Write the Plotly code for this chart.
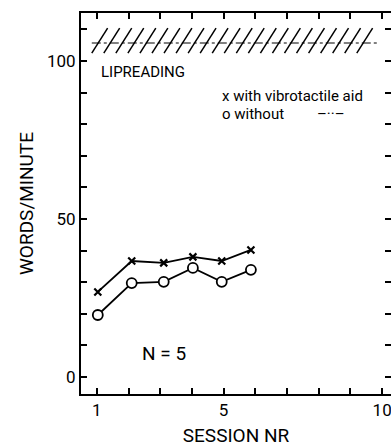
import plotly.graph_objects as go

# ---- data ----
session_with = [1.03, 2.10, 3.11, 4.03, 4.94, 5.86]
words_with = [26.9, 36.7, 36.1, 38.0, 36.7, 40.2]
session_without = [1.03, 2.10, 3.11, 4.03, 4.94, 5.86]
words_without = [19.6, 29.7, 30.1, 34.5, 30.1, 33.9]

lipreading_level = 105.7
lipreading_low = 102.5
lipreading_high = 110.4
lipreading_sessions = [0.84, 9.86]

x_tickvals = [1, 2, 3, 4, 5, 6, 7, 8, 9, 10]
x_ticktext = ["1", "", "", "", "5", "", "", "", "", "10"]
y_tickvals = [0, 10, 20, 30, 40, 50, 60, 70, 80, 90, 100, 110]
y_ticktext = ["0", "", "", "", "", "50", "", "", "", "", "100", ""]

FONT = "Roboto, Liberation Sans, sans-serif"

fig = go.Figure()

# hatched lipreading band: slashes built from the band limits
hatch_step = 0.38
hatch_half = 0.25
hx, hy = [], []
xc = lipreading_sessions[0] + hatch_half
while xc <= lipreading_sessions[1] - hatch_half + 1e-9:
    hx += [xc - hatch_half, xc + hatch_half, None]
    hy += [lipreading_low, lipreading_high, None]
    xc += hatch_step
fig.add_trace(go.Scatter(x=hx, y=hy, mode="lines", line=dict(color="black", width=1.5),
                         hoverinfo="skip", showlegend=False))
fig.add_trace(go.Scatter(
    x=lipreading_sessions, y=[lipreading_level, lipreading_level],
    mode="lines", line=dict(color="black", width=1, dash="dashdot"),
    hoverinfo="skip", showlegend=False))

fig.add_trace(go.Scatter(
    x=session_with, y=words_with, mode="lines+markers",
    line=dict(color="black", width=1.8),
    marker=dict(symbol="x-thin", size=7, line=dict(color="black", width=2.2)),
    name="with vibrotactile aid", showlegend=False))
fig.add_trace(go.Scatter(
    x=session_without, y=words_without, mode="lines+markers",
    line=dict(color="black", width=1.8),
    marker=dict(symbol="circle", size=10, color="white", line=dict(color="black", width=1.8)),
    name="without", showlegend=False))

ann = dict(xref="x", yref="y", showarrow=False, font=dict(family=FONT, size=15, color="black"))
fig.add_annotation(x=2.47, y=96.6, text="LIPREADING", **ann)
fig.add_annotation(x=4.88, y=89.0, text="x with vibrotactile aid", xanchor="left", **ann)
fig.add_annotation(x=4.88, y=83.1, text="o without", xanchor="left", **ann)
fig.add_annotation(x=7.88, y=83.1, text="–··–", xanchor="left", **ann)
fig.add_annotation(x=3.11, y=7.4, text="N = 5", xref="x", yref="y", showarrow=False,
                   font=dict(family=FONT, size=19, color="black"))

axis_common = dict(
    showline=True, linecolor="black", linewidth=2, mirror="allticks",
    ticks="inside", ticklen=6, tickwidth=1.5, tickcolor="black",
    showgrid=False, zeroline=False, ticklabeloverflow="allow",
    tickfont=dict(family=FONT, size=17, color="black"),
)
fig.update_xaxes(range=[0.5, 10.28], tickmode="array", tickvals=x_tickvals, ticktext=x_ticktext,
                 title=dict(text="SESSION NR", font=dict(family=FONT, size=19, color="black"), standoff=13),
                 **axis_common)
fig.update_yaxes(range=[-5.4, 115.2], tickmode="array", tickvals=y_tickvals, ticktext=y_ticktext,
                 title=dict(text="WORDS/MINUTE", font=dict(family=FONT, size=19, color="black"), standoff=8),
                 **axis_common)

fig.update_layout(
    width=391, height=447,
    margin=dict(l=81, r=0, t=13, b=53, autoexpand=False),
    plot_bgcolor="white", paper_bgcolor="white",
    showlegend=False,
)

fig.write_html("out.html", config={"displayModeBar": False},
               post_script="document.body.style.margin='0';")
